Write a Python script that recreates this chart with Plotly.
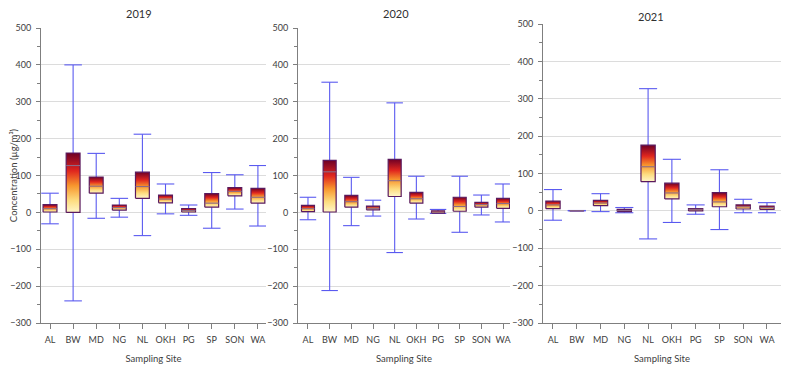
import plotly.graph_objects as go

sites = ["AL", "BW", "MD", "NG", "NL", "OKH", "PG", "SP", "SON", "WA"]
years = ["2019", "2020", "2021"]

lo_2019 = [-31, -240, -16, -13, -63, -4, -8, -43, 9, -37]
q1_2019 = [1, 0, 52, 6, 38, 26, 1, 14, 45, 25]
med_2019 = [10, 127, 71, 13, 70, 36, 5, 25, 57, 41]
q3_2019 = [21, 161, 96, 20, 109, 47, 10, 51, 67, 65]
hi_2019 = [52, 400, 160, 38, 212, 77, 20, 108, 102, 127]

lo_2020 = [-20, -212, -36, -10, -109, -18, -3, -54, -7, -26]
q1_2020 = [2, 1, 14, 7, 43, 25, -2, 3, 14, 11]
med_2020 = [10, 110, 29, 11, 86, 37, 1, 16, 21, 24]
q3_2020 = [19, 141, 46, 17, 144, 54, 4, 41, 27, 38]
hi_2020 = [41, 353, 95, 33, 297, 98, 8, 98, 47, 77]

lo_2021 = [-25, 0, -2, -5, -75, -31, -9, -50, -5, -5]
q1_2021 = [6, 0, 14, -2, 78, 32, 0, 11, 5, 4]
med_2021 = [16, 0.5, 21, 1, 118, 48, 4, 24, 11, 9]
q3_2021 = [26, 1, 28, 4, 176, 74, 6, 49, 16, 13]
hi_2021 = [57, 1, 46, 9, 327, 138, 16, 110, 31, 22]

stats = {
    "2019": (lo_2019, q1_2019, med_2019, q3_2019, hi_2019),
    "2020": (lo_2020, q1_2020, med_2020, q3_2020, hi_2020),
    "2021": (lo_2021, q1_2021, med_2021, q3_2021, hi_2021),
}

FONT = "Lato"
TXT = "#404040"
WHISK = "#5a5af0"
EDGE = "#5a1a5e"
MEDC = "#8c6a86"
heat = [[0.0, "#fff6c8"], [0.2, "#fddc80"], [0.45, "#f8962e"],
        [0.7, "#e0261e"], [1.0, "#6e0026"]]

# page body has an 8px margin; figure is sized to fit the window
OFF = 8
W, H = 791 - OFF, 370 - OFF


def fx(px):
    return (px - OFF) / W


def fy(py):
    return 1 - (py - OFF) / H


x_domains = [[fx(41), fx(266)], [fx(298), fx(510)], [fx(543), fx(781)]]
y_domains = [[fy(323), fy(28)], [fy(323), fy(28)], [fy(323), fy(24)]]
x_ranges = [[-0.39, 9.35], [-0.46, 9.32], [-0.42, 9.59]]

BOX_HW = 0.3
CAP_HW = 0.38

fig = go.Figure()

for p, yr in enumerate(years):
    lo, q1, med, q3, hi = stats[yr]
    xa = "x" if p == 0 else f"x{p + 1}"
    ya = "y" if p == 0 else f"y{p + 1}"
    wx, wy = [], []
    for i in range(len(sites)):
        wx += [i, i, None, i - CAP_HW, i + CAP_HW, None, i - CAP_HW, i + CAP_HW, None]
        wy += [lo[i], hi[i], None, hi[i], hi[i], None, lo[i], lo[i], None]
    fig.add_trace(go.Scatter(x=wx, y=wy, mode="lines", xaxis=xa, yaxis=ya,
                             line=dict(color=WHISK, width=1.1),
                             hoverinfo="skip", showlegend=False))
    for i in range(len(sites)):
        bx = [i - BOX_HW, i + BOX_HW, i + BOX_HW, i - BOX_HW, i - BOX_HW]
        by = [q1[i], q1[i], q3[i], q3[i], q1[i]]
        fig.add_trace(go.Scatter(
            x=bx, y=by, mode="lines", fill="toself", xaxis=xa, yaxis=ya,
            fillgradient=dict(type="vertical", colorscale=heat),
            line=dict(color=EDGE, width=1.2),
            name=sites[i], showlegend=False))
    mx, my = [], []
    for i in range(len(sites)):
        mx += [i - BOX_HW, i + BOX_HW, None]
        my += [med[i], med[i], None]
    fig.add_trace(go.Scatter(x=mx, y=my, mode="lines", xaxis=xa, yaxis=ya,
                             line=dict(color=MEDC, width=1.1),
                             hoverinfo="skip", showlegend=False))

layout = dict(
    width=W, height=H,
    margin=dict(l=0, r=0, t=0, b=0),
    paper_bgcolor="white", plot_bgcolor="white",
    font=dict(family=FONT, size=9, color=TXT),
    showlegend=False,
)

for p in range(3):
    xk = "xaxis" if p == 0 else f"xaxis{p + 1}"
    yk = "yaxis" if p == 0 else f"yaxis{p + 1}"
    ya = "y" if p == 0 else f"y{p + 1}"
    xa = "x" if p == 0 else f"x{p + 1}"
    layout[xk] = dict(
        domain=x_domains[p], anchor=ya, range=x_ranges[p], automargin=False,
        tickmode="array", tickvals=list(range(len(sites))), ticktext=sites,
        showgrid=False, zeroline=False, showline=True, linecolor="#7f7f7f",
        linewidth=1, ticks="outside", ticklen=5, tickcolor="#7f7f7f",
        ticklabelstandoff=3,
        tickfont=dict(family=FONT, size=9, color=TXT),
        title=dict(text="Sampling Site", font=dict(family=FONT, size=9.5, color=TXT),
                   standoff=11),
    )
    layout[yk] = dict(
        domain=y_domains[p], anchor=xa, range=[-300, 500], automargin=False,
        tickmode="linear", tick0=-300, dtick=100,
        showgrid=True, gridcolor="#dcdcdc", gridwidth=1,
        zeroline=False, showline=True, linecolor="#7f7f7f", linewidth=1,
        ticks="outside", ticklen=4, tickcolor="#7f7f7f",
        ticklabelstandoff=3,
        minor=dict(dtick=50, ticks="outside", ticklen=3, tickcolor="#7f7f7f",
                   showgrid=False),
        tickfont=dict(family=FONT, size=9, color=TXT),
    )

layout["yaxis"]["title"] = dict(text="Concentration (µg/m³)",
                                font=dict(family=FONT, size=9.5, color=TXT),
                                standoff=6)

fig.update_layout(**layout)

title_x = [139, 396, 651]
title_y = [13, 13, 8]
title_anchor = ["middle", "middle", "top"]
for p, yr in enumerate(years):
    fig.add_annotation(text=yr, x=fx(title_x[p]), y=fy(title_y[p]),
                       xref="paper", yref="paper", showarrow=False,
                       font=dict(family=FONT, size=11, color="#303030"),
                       xanchor="center", yanchor=title_anchor[p])

fig.write_html("out.html")
